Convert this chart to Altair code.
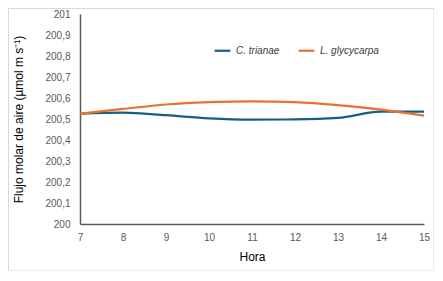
import altair as alt
import pandas as pd

hours = [7, 8, 9, 10, 11, 12, 13, 14, 15]
c_trianae = [200.525, 200.530, 200.518, 200.503, 200.497, 200.498, 200.505, 200.535, 200.535]
l_glycycarpa = [200.525, 200.548, 200.569, 200.580, 200.584, 200.580, 200.566, 200.545, 200.516]
series_names = ["C. trianae", "L. glycycarpa"]
colors = ["#156082", "#E97132"]
y_ticks = [200, 200.1, 200.2, 200.3, 200.4, 200.5, 200.6, 200.7, 200.8, 200.9, 201]

rows = []
for h, a, b in zip(hours, c_trianae, l_glycycarpa):
    rows.append({"Hora": h, "valor": a, "serie": series_names[0]})
    rows.append({"Hora": h, "valor": b, "serie": series_names[1]})
df = pd.DataFrame(rows)

label_expr = ("abs(datum.value - round(datum.value)) < 0.001 ? format(datum.value, 'd') : "
              "replace(format(datum.value, '.1f'), '.', ',')")

frame = alt.Chart(pd.DataFrame({"k": [0]})).mark_rect(
    filled=False, stroke="#d9d9d9", strokeWidth=1
).encode(
    x=alt.value(-71.5), x2=alt.value(354), y=alt.value(-5.5), y2=alt.value(257)
)

lines = alt.Chart(df).mark_line(interpolate="monotone", strokeWidth=2.2).encode(
    x=alt.X("Hora:Q", scale=alt.Scale(domain=[7, 15], nice=False),
            axis=alt.Axis(values=hours, title="Hora", grid=False, ticks=False,
                          labelPadding=8, titlePadding=9, format="d", labelFlush=False)),
    y=alt.Y("valor:Q", scale=alt.Scale(domain=[200, 201], nice=False),
            axis=alt.Axis(values=y_ticks, title="Flujo molar de aire  (µmol m s⁻¹)",
                          grid=False, ticks=False, labelPadding=10, titlePadding=19,
                          labelExpr=label_expr)),
    color=alt.Color("serie:N", scale=alt.Scale(domain=series_names, range=colors),
                    legend=alt.Legend(title=None, orient="none", legendX=133, legendY=27,
                                      direction="horizontal", symbolType="stroke",
                                      symbolStrokeWidth=2.2, symbolSize=250,
                                      labelFontStyle="italic", labelFontSize=10,
                                      labelFont="Liberation Sans", labelColor="#404040",
                                      columnPadding=14)),
)

chart = alt.layer(lines, frame).properties(
    width=344, height=210,
    autosize=alt.AutoSizeParams(type="none"),
    padding={"left": 72, "top": 6, "right": 10, "bottom": 47},
).configure_view(stroke=None).configure_axis(
    domainColor="#595959", domainWidth=1.5,
    labelFont="Liberation Sans", labelFontSize=10, labelColor="#595959",
    titleFont="Liberation Sans", titleFontSize=12, titleFontWeight="normal", titleColor="#000000",
)

chart.save("out.html", embed_options={"renderer": "svg", "actions": False})
